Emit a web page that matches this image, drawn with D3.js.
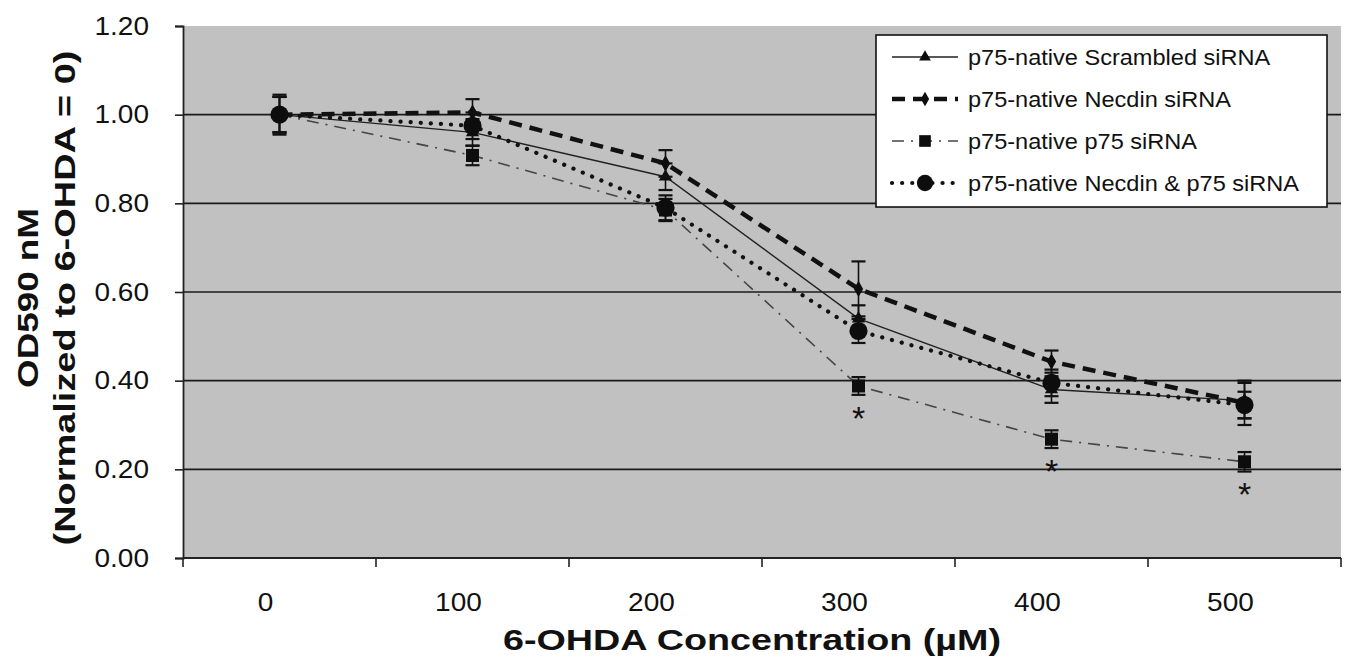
<!DOCTYPE html>
<html>
<head>
<meta charset="utf-8">
<script src="https://cdn.jsdelivr.net/npm/d3@7"></script>
<style>
  body { margin: 0; background: #fff; }
  text { font-family: "Liberation Sans", Arial, sans-serif; fill: #111; }
</style>
</head>
<body>
<div id="chart"></div>
<script>
// data
var doses = ['0', '100', '200', '300', '400', '500'];
var yTicks = [0, 0.2, 0.4, 0.6, 0.8, 1.0, 1.2];

var scrambled = [1.00, 0.96, 0.86, 0.54, 0.38, 0.355];
var scrambledErr = [0.04, 0.03, 0.03, 0.03, 0.03, 0.04];
var necdin = [1.00, 1.005, 0.89, 0.607, 0.443, 0.35];
var necdinErr = [0.04, 0.03, 0.03, 0.062, 0.025, 0.05];
var p75 = [1.00, 0.908, 0.785, 0.388, 0.268, 0.217];
var p75Err = [0.04, 0.022, 0.025, 0.02, 0.02, 0.022];
var both = [1.00, 0.975, 0.79, 0.512, 0.395, 0.345];
var bothErr = [0.045, 0.03, 0.028, 0.027, 0.03, 0.03];

var seriesNames = ['p75-native Scrambled siRNA', 'p75-native Necdin siRNA',
                   'p75-native p75 siRNA', 'p75-native Necdin & p75 siRNA'];
var starDoses = ['300', '400', '500'];
var starValues = [0.388, 0.268, 0.217];

var W = 1347, H = 665;
var chartC = { x0: 183, x1: 1341, y0: 26, y1: 558 };

var svg = d3.select('#chart').append('svg')
    .attr('width', W)
    .attr('height', H);

var x = d3.scaleBand().domain(doses).range([chartC.x0, chartC.x1]);
var y = d3.scaleLinear().domain([0, 1.2]).range([chartC.y1, chartC.y0]);
var cx = d => x(d) + x.bandwidth() / 2;

// stretch text a bit wider, the scanned figure has wide lettering
function widen(sel, k) {
  sel.each(function () {
    var w = this.getComputedTextLength();
    d3.select(this).attr('textLength', w * k).attr('lengthAdjust', 'spacingAndGlyphs');
  });
}

// plot background
svg.append('rect')
    .attr('x', chartC.x0).attr('y', chartC.y0)
    .attr('width', chartC.x1 - chartC.x0).attr('height', chartC.y1 - chartC.y0)
    .attr('fill', '#c1c1c1');

// grid lines
svg.append('g').selectAll('line')
    .data(yTicks.filter(d => d > 0 && d < 1.2))
    .enter().append('line')
    .attr('x1', chartC.x0).attr('x2', chartC.x1)
    .attr('y1', d => y(d)).attr('y2', d => y(d))
    .attr('stroke', '#1a1a1a').attr('stroke-width', 1.6);

// y axis
var yAxis = svg.append('g')
    .attr('transform', `translate(${chartC.x0},0)`)
    .call(d3.axisLeft(y).tickValues(yTicks).tickFormat(d3.format('.2f')).tickSize(8).tickPadding(26));
yAxis.select('.domain').attr('stroke', '#222').attr('stroke-width', 1.8);
yAxis.selectAll('.tick line').attr('stroke', '#222').attr('stroke-width', 1.6);
yAxis.selectAll('.tick text')
    .style('font-size', '25px')
    .attr('font-family', '"Liberation Sans", Arial, sans-serif')
    .attr('fill', '#111')
    .call(widen, 1.12);

// x axis (ticks between categories)
var xAxisG = svg.append('g');
xAxisG.append('line')
    .attr('x1', chartC.x0).attr('x2', chartC.x1)
    .attr('y1', chartC.y1).attr('y2', chartC.y1)
    .attr('stroke', '#222').attr('stroke-width', 1.8);
xAxisG.selectAll('.sep')
    .data(doses.concat(['end']))
    .enter().append('line')
    .attr('x1', (d, i) => chartC.x0 + i * x.step())
    .attr('x2', (d, i) => chartC.x0 + i * x.step())
    .attr('y1', chartC.y1).attr('y2', chartC.y1 + 9)
    .attr('stroke', '#222').attr('stroke-width', 1.6);
xAxisG.selectAll('.lbl')
    .data(doses)
    .enter().append('text')
    .attr('x', d => cx(d) - 14)
    .attr('y', chartC.y1 + 53)
    .attr('text-anchor', 'middle')
    .style('font-size', '25px')
    .text(d => d)
    .call(widen, 1.12);

// axis titles
svg.append('text')
    .attr('x', 752).attr('y', 650)
    .attr('text-anchor', 'middle')
    .attr('textLength', 498).attr('lengthAdjust', 'spacingAndGlyphs')
    .style('font-size', '30px').style('font-weight', 'bold')
    .text('6-OHDA Concentration (\u00b5M)');

var yt = svg.append('g').attr('transform', 'translate(0,298) rotate(-90)');
yt.append('text')
    .attr('x', 0).attr('y', 38)
    .attr('text-anchor', 'middle')
    .attr('textLength', 180).attr('lengthAdjust', 'spacingAndGlyphs')
    .style('font-size', '29px').style('font-weight', 'bold')
    .text('OD590 nM');
yt.append('text')
    .attr('x', 0).attr('y', 75)
    .attr('text-anchor', 'middle')
    .attr('textLength', 495).attr('lengthAdjust', 'spacingAndGlyphs')
    .style('font-size', '29px').style('font-weight', 'bold')
    .text('(Normalized to 6-OHDA = 0)');

// series
var series = [
  { name: seriesNames[0], vals: scrambled, err: scrambledErr, stroke: '#222', width: 1.4, dash: null, cap: 'butt', shape: d3.symbolTriangle, size: 75 },
  { name: seriesNames[1], vals: necdin, err: necdinErr, stroke: '#111', width: 4.5, dash: '13,8', cap: 'butt', shape: d3.symbolDiamond, size: 75 },
  { name: seriesNames[2], vals: p75, err: p75Err, stroke: '#444', width: 1.6, dash: '12,7,2,7', cap: 'butt', shape: d3.symbolSquare, size: 170 },
  { name: seriesNames[3], vals: both, err: bothErr, stroke: '#111', width: 4.2, dash: '0.1,10', cap: 'round', shape: d3.symbolCircle, size: 260 }
];

var line = d3.line().x((d, i) => cx(doses[i])).y(d => y(d));

series.forEach(function (s) {
  svg.append('path')
      .datum(s.vals)
      .attr('d', line)
      .attr('fill', 'none')
      .attr('stroke', s.stroke)
      .attr('stroke-width', s.width)
      .attr('stroke-dasharray', s.dash)
      .attr('stroke-linecap', s.cap);
});

series.forEach(function (s) {
  var g = svg.append('g');
  var eb = g.selectAll('.eb').data(s.vals).enter().append('g');
  eb.append('line')
      .attr('x1', (d, i) => cx(doses[i])).attr('x2', (d, i) => cx(doses[i]))
      .attr('y1', (d, i) => y(d + s.err[i])).attr('y2', (d, i) => y(d - s.err[i]))
      .attr('stroke', '#111').attr('stroke-width', 1.6);
  [1, -1].forEach(function (sg) {
    eb.append('line')
        .attr('x1', (d, i) => cx(doses[i]) - 7).attr('x2', (d, i) => cx(doses[i]) + 7)
        .attr('y1', (d, i) => y(d + sg * s.err[i])).attr('y2', (d, i) => y(d + sg * s.err[i]))
        .attr('stroke', '#111').attr('stroke-width', 2.2);
  });
  g.selectAll('.pt').data(s.vals).enter().append('path')
      .attr('d', d3.symbol().type(s.shape).size(s.size))
      .attr('transform', (d, i) => `translate(${cx(doses[i])},${y(d)})`)
      .attr('fill', '#0d0d0d');
});

// significance stars
svg.selectAll('.star')
    .data(starDoses)
    .enter().append('text')
    .attr('x', d => cx(d))
    .attr('y', (d, i) => y(starValues[i]) + 44)
    .attr('text-anchor', 'middle')
    .style('font-size', '34px')
    .text('*');

// legend
var legend = svg.append('g').attr('transform', 'translate(876,35)');
legend.append('rect')
    .attr('width', 451).attr('height', 172)
    .attr('fill', '#fff').attr('stroke', '#111').attr('stroke-width', 1.6);

series.forEach(function (s, i) {
  var ly = 22 + i * 42;
  var row = legend.append('g').attr('transform', `translate(0,${ly})`);
  row.append('line')
      .attr('x1', 16).attr('x2', 82).attr('y1', 0).attr('y2', 0)
      .attr('stroke', s.stroke)
      .attr('stroke-width', s.width)
      .attr('stroke-dasharray', s.dash)
      .attr('stroke-linecap', s.cap);
  row.append('path')
      .attr('d', d3.symbol().type(s.shape).size(s.size * 0.8))
      .attr('transform', 'translate(49,0)')
      .attr('fill', '#0d0d0d');
  row.append('text')
      .attr('x', 92).attr('y', 8)
      .style('font-size', '22px')
      .text(s.name)
      .call(widen, 1.07);
});
</script>
</body>
</html>
